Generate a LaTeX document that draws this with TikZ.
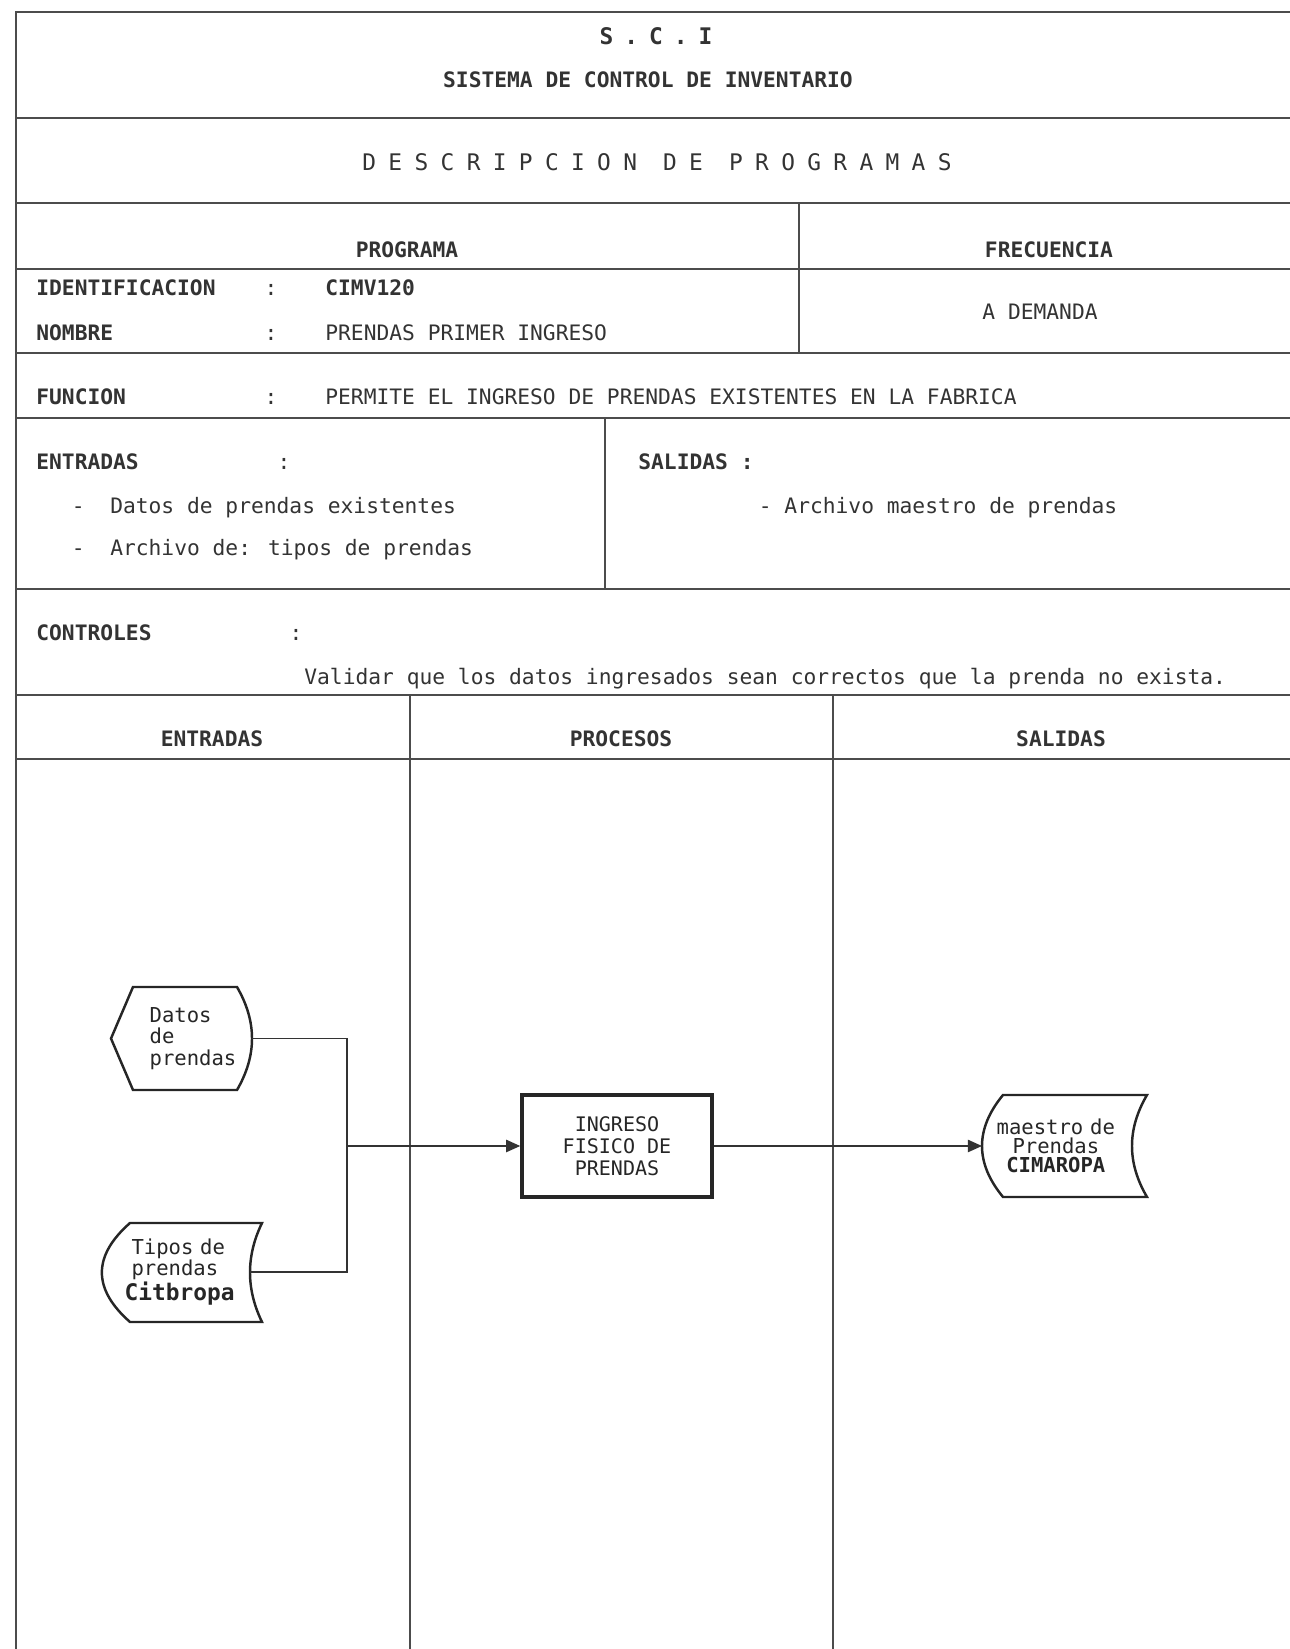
\documentclass[tikz,border=0pt]{standalone}
\usepackage{fontspec}
\usepackage{tikz}
\usetikzlibrary{arrows.meta,calc}

\newfontfamily\dotmono{DejaVu Sans Mono}
\newfontfamily\dotwide[LetterSpace=54]{DejaVu Sans Mono}
\newfontfamily\dotsci[LetterSpace=48]{DejaVu Sans Mono}

\begin{document}
\begin{tikzpicture}[scale=1,
	rule/.style={line width=1pt,black!70},
	txt/.style={inner sep=0pt,anchor=base west,text=black!80,font=\dotmono\fontsize{12.1}{14}\selectfont},
	hdr/.style={txt,font=\dotmono\bfseries\fontsize{12.1}{14}\selectfont},
	flow/.style={inner sep=0pt,text=black!85,font=\dotmono\fontsize{11.7}{12.2}\selectfont},
	shapeline/.style={line width=1.4pt,black!85},
	link/.style={line width=0.8pt,black!80},
	tip/.style={-{Triangle[length=8pt,width=7pt]}}]
	\useasboundingbox (0,0) rectangle (25.8,32.98);

	\draw[rule] (25.8,32.74) -- (0.32,32.74) -- (0.32,0);
	\foreach \y in {30.62,28.92,27.6,25.92,24.62,21.2,19.08,17.8}
		\draw[rule] (0.32,\y) -- (25.8,\y);
	\draw[rule] (15.98,28.92) -- (15.98,25.92);
	\draw[rule] (12.1,24.62) -- (12.1,21.2);
	\draw[rule] (8.2,19.08) -- (8.2,0);
	\draw[rule] (16.66,19.08) -- (16.66,0);

	\node[hdr,anchor=base,font=\dotsci\bfseries\fontsize{13}{15}\selectfont] (sci) at (13.12,32.09) {S.C.I};
	\node[hdr,anchor=base] (sistema) at (12.96,31.23) {SISTEMA DE CONTROL DE INVENTARIO};
	\node[txt,anchor=base,font=\dotwide\fontsize{13}{15}\selectfont] (descr) at (13.14,29.57) {DESCRIPCION DE PROGRAMAS};

	\node[hdr,anchor=base] (programa) at (8.14,27.83) {PROGRAMA};
	\node[hdr,anchor=base] (frecuencia) at (20.98,27.83) {FRECUENCIA};
	\node[hdr] (ident) at (0.72,27.07) {IDENTIFICACION};
	\node[txt,anchor=base] (identdp) at (5.42,27.07) {:};
	\node[hdr] (codigo) at (6.5,27.07) {CIMV120};
	\node[hdr] (nombre) at (0.72,26.17) {NOMBRE};
	\node[txt,anchor=base] (nombredp) at (5.42,26.17) {:};
	\node[txt] (nombretxt) at (6.5,26.17) {PRENDAS PRIMER INGRESO};
	\node[txt,anchor=base] (demanda) at (20.8,26.59) {A DEMANDA};

	\node[hdr] (funcion) at (0.72,24.89) {FUNCION};
	\node[txt,anchor=base] (funciondp) at (5.42,24.89) {:};
	\node[txt] (funciontxt) at (6.5,24.89) {PERMITE EL INGRESO DE PRENDAS EXISTENTES EN LA FABRICA};

	\node[hdr] (entradas) at (0.72,23.59) {ENTRADAS};
	\node[txt,anchor=base] (entradasdp) at (5.68,23.59) {:};
	\node[txt] (ent1) at (1.43,22.71) {-~~Datos de prendas existentes};
	\node[txt] (ent2) at (1.43,21.87) {-~~Archivo de: tipos de prendas};
	\node[hdr] (salidas) at (12.76,23.59) {SALIDAS :};
	\node[txt] (sal1) at (15.17,22.71) {- Archivo maestro de prendas};

	\node[hdr] (controles) at (0.72,20.17) {CONTROLES};
	\node[txt,anchor=base] (controlesdp) at (5.92,20.17) {:};
	\node[txt] (controltxt) at (6.08,19.29) {Validar que los datos ingresados sean correctos que la prenda no exista.};

	\node[hdr,anchor=base] (colent) at (4.24,18.05) {ENTRADAS};
	\node[hdr,anchor=base] (colpro) at (12.42,18.05) {PROCESOS};
	\node[hdr,anchor=base] (colsal) at (21.22,18.05) {SALIDAS};

	% diagrama
	\draw[shapeline] (2.66,13.24) -- (4.74,13.24) .. controls (5.14,12.55) and (5.14,11.87) .. (4.74,11.18) -- (2.66,11.18) -- (2.22,12.21) -- cycle;
	\node[flow,anchor=east,text width=1.78cm,inner xsep=0.26cm,align=left] (datos) at (5.04,12.21) {Datos\\de\\prendas};

	\draw[shapeline] (2.6,8.52) -- (5.24,8.52) .. controls (4.92,7.86) and (4.92,7.2) .. (5.24,6.54) -- (2.6,6.54) .. controls (1.85,7.2) and (1.85,7.86) .. (2.6,8.52) -- cycle;
	\node[flow,anchor=east,text width=2.46cm,inner xsep=0.04cm,align=left,font=\dotmono\fontsize{11.7}{10}\selectfont] (tipos) at (5.0,7.54) {~Tipos de\\~prendas\\{\fontsize{13}{10}\selectfont\bfseries Citbropa}};

	\node[draw,line width=2pt,black!85,minimum width=3.8cm,minimum height=2.04cm,align=center,font=\dotmono\fontsize{11.4}{12.5}\selectfont] (ingreso) at (12.34,10.06) {INGRESO\\FISICO DE\\PRENDAS};

	\draw[shapeline] (20.06,11.08) -- (22.94,11.08) .. controls (22.54,10.4) and (22.54,9.72) .. (22.94,9.04) -- (20.06,9.04) .. controls (19.5,9.72) and (19.5,10.4) .. (20.06,11.08) -- cycle;
	\node[flow,anchor=west,text width=2.5cm,inner xsep=0.22cm,align=center,font=\dotmono\fontsize{11.7}{10.8}\selectfont] (maestro) at (19.64,10.06) {maestro de\\Prendas\\\textbf{CIMAROPA}};

	\coordinate (junta) at (6.94,10.06);
	\draw[link] (datos.east) -| (junta) |- (tipos.east);
	\draw[link,tip] (junta) -- (ingreso.west);
	\draw[link,tip] (ingreso.east) -- (maestro.west);
\end{tikzpicture}
\end{document}
